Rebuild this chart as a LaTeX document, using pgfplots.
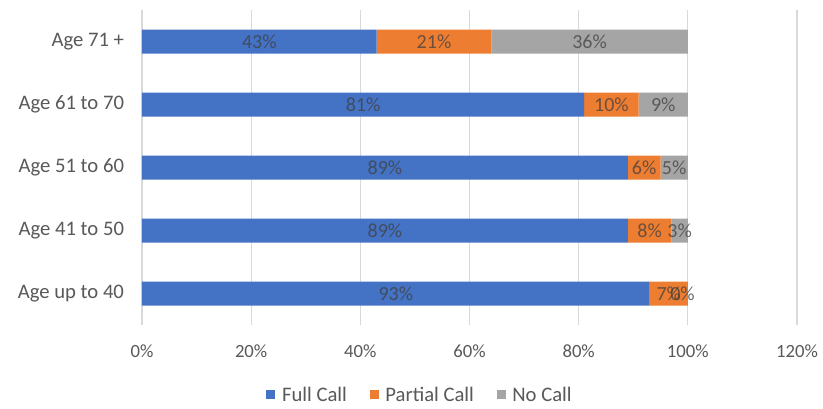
\documentclass[border=0pt]{standalone}
\usepackage{fontspec}
\setmainfont{Carlito}
\usepackage{pgfplots}
\pgfplotsset{compat=1.18}

\definecolor{fullcall}{HTML}{4472C4}
\definecolor{partcall}{HTML}{ED7D31}
\definecolor{nocall}{HTML}{A5A5A5}
\definecolor{ticktext}{HTML}{595959}
\definecolor{gridcol}{HTML}{D9D9D9}
\definecolor{labeltext}{HTML}{404040}

\begin{document}
\begin{tikzpicture}
% overall canvas, axis box lower-left at the origin
\path[use as bounding box, fill=white] (-106.5pt,-62.25pt) rectangle (510.75pt,243.75pt);
\begin{axis}[
  scale only axis,
  width=491.25pt, height=236.25pt,
  xbar stacked,
  bar width=18pt,
  xmin=0, xmax=120,
  ymin=-0.5, ymax=4.5,
  axis line style={draw=none},
  xmajorgrids, grid style={gridcol, line width=0.8pt},
  xtick={0,20,...,120},
  xticklabel={\pgfmathprintnumber{\tick}\%},
  ytick={0,1,2,3,4},
  yticklabels={Age up to 40, Age 41 to 50, Age 51 to 60, Age 61 to 70, Age 71 +},
  tick label style={text=ticktext},
  xticklabel style={font=\fontsize{14}{16}\selectfont, yshift=-11pt},
  yticklabel style={font=\fontsize{15.5}{17}\selectfont, xshift=-10pt},
  /pgf/number format/assume math mode=true,
  major tick length=0pt,
  nodes near coords={\pgfmathprintnumber{\pgfplotspointmeta}\%},
  every node near coord/.append style={
    anchor=center, font=\fontsize{15}{17}\selectfont,
    text=labeltext, text opacity=0.75},
  legend style={
    at={(0.425,-0.222)}, anchor=center,
    draw=none, fill=none,
    legend columns=-1,
    font=\fontsize{15.5}{17}\selectfont, text=ticktext,
    /tikz/every odd column/.append style={column sep=3pt},
    /tikz/every even column/.append style={column sep=15pt}},
  legend image code/.code={
    \fill[#1] (0pt,-3.4pt) rectangle (6.8pt,3.4pt);},
]
\addplot[fill=fullcall, draw=none] coordinates {
  (93,0) (89,1) (89,2) (81,3) (43,4)};
\addplot[fill=partcall, draw=none] coordinates {
  (7,0) (8,1) (6,2) (10,3) (21,4)};
\addplot[fill=nocall, draw=none] coordinates {
  (0,0) (3,1) (5,2) (9,3) (36,4)};
\legend{Full Call, Partial Call, No Call}
% the empty "No Call" segment of the youngest group still carries its label;
% labels sit half-way along their bar, so move this one to the bar's end
\addplot[forget plot, stack plots=false, only marks, mark=none,
  nodes near coords={\pgfplotspointmeta\%}, point meta=explicit symbolic,
  every node near coord/.append style={xshift=200.7pt}]
  coordinates {(100,0) [0]};
\end{axis}
\end{tikzpicture}
\end{document}
